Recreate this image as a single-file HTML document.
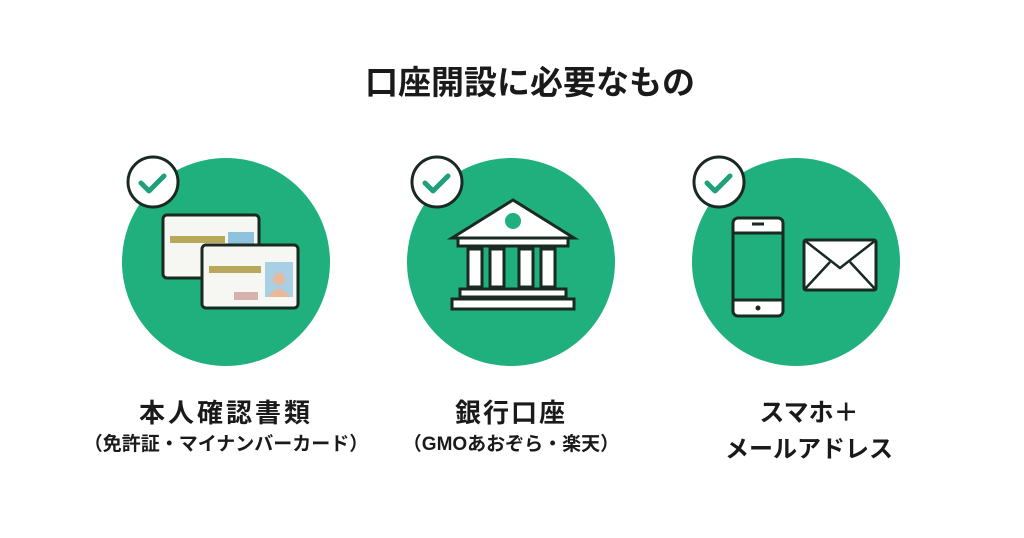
<!DOCTYPE html>
<html><head><meta charset="utf-8"><style>
body{margin:0;width:1024px;height:538px;background:#fff;overflow:hidden;position:relative;font-family:"Liberation Sans","Noto Sans CJK JP",sans-serif;color:#1a1a1a}
.t{position:absolute;left:18px;width:1024px;text-align:center;font-weight:bold;font-size:33px;top:56px}
.l{position:absolute;width:400px;text-align:center;font-weight:bold}
</style></head><body>
<div class="t">口座開設に必要なもの</div>
<svg width="1024" height="538" style="position:absolute;left:0;top:0">
<g fill="#1fb07d">
<circle cx="226" cy="262" r="104"/><circle cx="511" cy="262" r="104"/><circle cx="796" cy="262" r="104"/>
</g>
<g fill="#fff" stroke="#1a2a22" stroke-width="3">
<circle cx="153" cy="182" r="25"/><circle cx="437" cy="182" r="25"/><circle cx="719" cy="182" r="25"/>
</g>
<g fill="none" stroke="#1fa07a" stroke-width="5" stroke-linecap="round" stroke-linejoin="round">
<path d="M141 183 l8 8 l15 -15"/><path d="M425 183 l8 8 l15 -15"/><path d="M707 183 l8 8 l15 -15"/>
</g>
<g stroke="#1a2a22" stroke-width="3">
<rect x="163" y="215" width="96" height="63" rx="4" fill="#f6f6f2"/>
<rect x="170" y="236" width="55" height="7" fill="#b8a85a" stroke="none"/>
<rect x="228" y="232" width="26" height="30" fill="#8fc2dd" stroke="none"/>
<rect x="202" y="245" width="96" height="63" rx="4" fill="#f6f6f2"/>
<rect x="209" y="266" width="52" height="7" fill="#b8a85a" stroke="none"/>
<rect x="265" y="262" width="28" height="35" fill="#a8cfe3" stroke="none"/>
<circle cx="279" cy="279" r="6" fill="#e8b89a" stroke="none"/>
<path d="M268 297 q11 -16 22 0z" fill="#e8b89a" stroke="none"/>
<rect x="234" y="292" width="24" height="8" fill="#d9b0b0" stroke="none"/>
</g>
<g fill="#fff" stroke="#1a2a22" stroke-width="3">
<path d="M452 238 L513 200 L574 238 Z"/>
<rect x="458" y="238" width="110" height="8"/>
<rect x="468" y="249" width="14" height="38"/><rect x="490" y="249" width="14" height="38"/>
<rect x="519" y="249" width="14" height="38"/><rect x="541" y="249" width="14" height="38"/>
<rect x="460" y="289" width="106" height="8"/><rect x="452" y="299" width="122" height="10"/>
</g>
<circle cx="513" cy="221" r="8" fill="#1fb07d"/>
<g stroke="#1a2a22" stroke-width="3">
<rect x="733" y="218" width="50" height="98" rx="5" fill="#fff"/>
<rect x="733" y="233" width="50" height="67" fill="#1fb07d"/>
<rect x="804" y="240" width="72" height="50" rx="2" fill="#fff"/>
<path d="M804 240 L840 268 L876 240 M804 290 L830 262 M876 290 L850 262" fill="none" stroke-width="2.5"/>
</g>
<line x1="752" y1="224" x2="764" y2="224" stroke="#1a2a22" stroke-width="3"/>
<circle cx="758" cy="308" r="2.5" fill="#1a2a22"/>
</svg>
<div class="l" style="left:26px;top:393px;font-size:26px;letter-spacing:3px">本人確認書類</div>
<div class="l" style="left:26px;top:429px;font-size:19px">（免許証・マイナンバーカード）</div>
<div class="l" style="left:311px;top:393px;font-size:26px;letter-spacing:2px">銀行口座</div>
<div class="l" style="left:311px;top:429px;font-size:19px">（GMOあおぞら・楽天）</div>
<div class="l" style="left:609px;top:393px;font-size:25px">スマホ＋</div>
<div class="l" style="left:609px;top:429px;font-size:24px">メールアドレス</div>
</body></html>
